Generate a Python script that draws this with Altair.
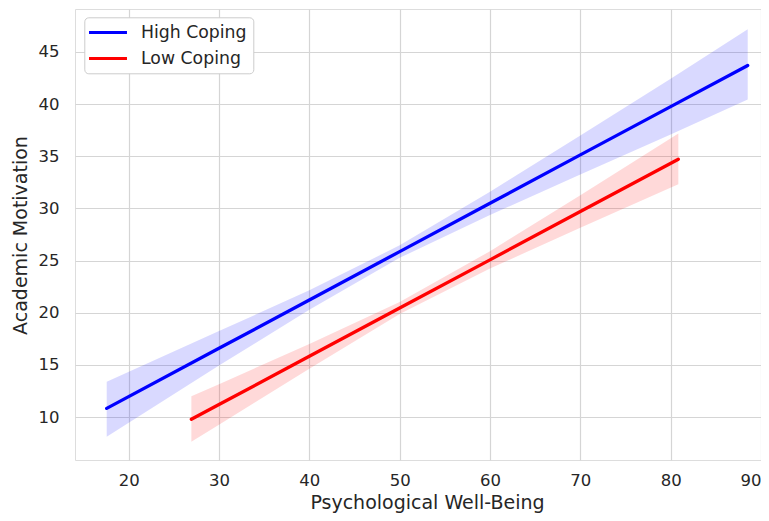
import altair as alt
import pandas as pd

groups = ["High Coping", "Low Coping"]
colors = ["#0000ff", "#ff0000"]

# High Coping: x, fitted line, CI lower, CI upper
high_x = [17.57, 30, 40, 50, 60, 70, 80, 88.53]
high_y = [10.83, 16.59, 21.22, 25.86, 30.49, 35.13, 39.76, 43.71]
high_lo = [8.11, 14.94, 20.29, 25.26, 29.37, 33.26, 37.09, 40.45]
high_hi = [13.39, 18.24, 22.15, 26.46, 31.61, 37.00, 42.43, 47.17]

# Low Coping
low_x = [26.94, 30, 40, 50, 60, 70, 80.85]
low_y = [9.78, 11.20, 15.82, 20.45, 25.07, 29.70, 34.72]
low_lo = [7.63, 9.25, 14.64, 19.87, 24.24, 28.14, 32.32]
low_hi = [12.00, 13.15, 17.00, 21.03, 25.90, 31.26, 37.19]

x_ticks = [20, 30, 40, 50, 60, 70, 80, 90]
y_ticks = [10, 15, 20, 25, 30, 35, 40, 45]

rows = []
for g, xs, ys, los, his in [
    (groups[0], high_x, high_y, high_lo, high_hi),
    (groups[1], low_x, low_y, low_lo, low_hi),
]:
    for x, y, lo, hi in zip(xs, ys, los, his):
        rows.append({"group": g, "band": g, "x": x, "y": y, "lo": lo, "hi": hi})
df = pd.DataFrame(rows)

FONT = "DejaVu Sans"
TXT = "#262626"

xscale = alt.Scale(domain=[14.06, 90.0], nice=False, zero=False)
yscale = alt.Scale(domain=[5.88, 49.12], nice=False, zero=False)

xaxis = alt.Axis(
    values=x_ticks, title="Psychological Well-Being", grid=True, ticks=False, tickSize=0,
    domain=False, labelFontSize=16.5, labelPadding=12, labelColor=TXT, labelFont=FONT,
    labelFlush=True, labelOverlap=False,
    titleFontSize=19, titleFont=FONT, titleColor=TXT, titleFontWeight="normal",
    titleX=352, titleY=48, titleAlign="center", titleBaseline="alphabetic",
    gridColor="#d5d5d5", gridWidth=1.2,
)
yaxis = alt.Axis(
    values=y_ticks, title="Academic Motivation", grid=True, ticks=False, tickSize=0,
    domain=False, labelFontSize=16.5, labelPadding=16, labelColor=TXT, labelFont=FONT,
    labelFlush=False,
    titleFontSize=19, titleFont=FONT, titleColor=TXT, titleFontWeight="normal",
    titleX=-49, titleY=226, titleAngle=270, titleAlign="center", titleBaseline="alphabetic",
    gridColor="#d5d5d5", gridWidth=1.2,
)

band = alt.Chart(df).mark_area(opacity=0.15).encode(
    x=alt.X("x:Q", scale=xscale, axis=xaxis),
    y=alt.Y("lo:Q", scale=yscale, axis=yaxis),
    y2="hi:Q",
    fill=alt.Fill("band:N", scale=alt.Scale(domain=groups, range=colors), legend=None),
    detail="band:N",
)

line = alt.Chart(df).mark_line(strokeWidth=3.3, strokeCap="round").encode(
    x=alt.X("x:Q", scale=xscale),
    y=alt.Y("y:Q", scale=yscale),
    color=alt.Color(
        "group:N",
        scale=alt.Scale(domain=groups, range=colors),
        legend=alt.Legend(
            title=None, orient="none", legendX=9.3, legendY=8.3,
            symbolType="M-2.53,0L2.53,0", symbolSize=225, symbolStrokeWidth=3,
            symbolOffset=8.4, labelOffset=24, padding=6.3, rowPadding=8,
            labelFontSize=17.3, labelFont=FONT, labelColor=TXT,
            fillColor="white", strokeColor="#cccccc", cornerRadius=4,
        ),
    ),
)

chart = (
    alt.layer(band, line)
    .resolve_scale(fill="independent", color="independent")
    .properties(
        width=686, height=451,
        autosize=alt.AutoSizeParams(type="none"),
        padding={"left": 67, "top": 1, "right": 0, "bottom": 53},
    )
    .configure_view(stroke="#cccccc", strokeWidth=1.5)
    .configure(background="white")
)

chart.save("out.html", embed_options={"renderer": "svg", "actions": False})
